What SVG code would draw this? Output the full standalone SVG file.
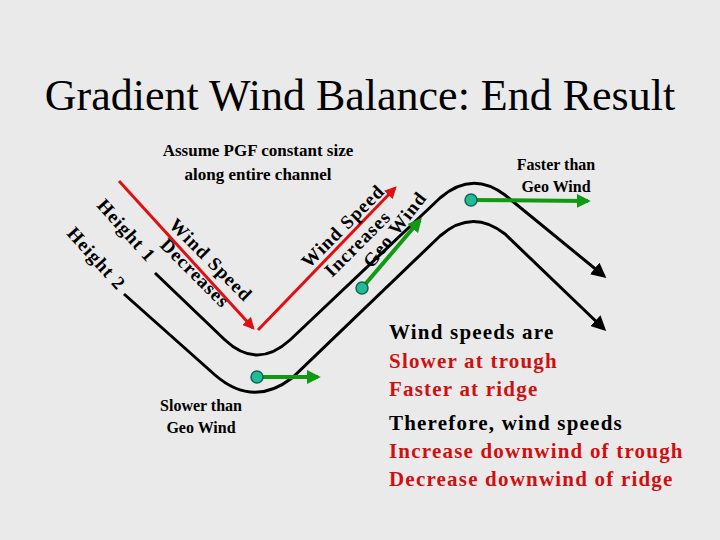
<svg xmlns="http://www.w3.org/2000/svg" width="720" height="540" viewBox="0 0 720 540">
<defs>
<style>
.t{font-family:"Liberation Serif",serif;font-weight:bold}
.c{fill:none;stroke:#000;stroke-width:3}
.r{stroke:#e01010;stroke-width:3}
.g{stroke:#119911;stroke-width:4}
.dot{fill:#22bb99;stroke:#116655;stroke-width:1.5}
.red{fill:#d01010}
.rot{font-size:19px;letter-spacing:1px}
</style>
<marker id="ab" viewBox="0 0 10 10" refX="8" refY="5" markerWidth="5" markerHeight="5" orient="auto"><path d="M0,0L10,5L0,10z" fill="#000"/></marker>
<marker id="ar" viewBox="0 0 10 10" refX="8" refY="5" markerWidth="4" markerHeight="4" orient="auto"><path d="M0,0L10,5L0,10z" fill="#e01010"/></marker>
<marker id="ag" viewBox="0 0 10 10" refX="8" refY="5" markerWidth="3.5" markerHeight="3.5" orient="auto"><path d="M0,0L10,5L0,10z" fill="#119911"/></marker>
</defs>
<rect width="720" height="540" fill="#eaeaea"/>
<text x="360" y="110" text-anchor="middle" font-family="'Liberation Serif',serif" font-size="44">Gradient Wind Balance: End Result</text>
<g id="connectors">
<path class="c" marker-end="url(#ab)" d="M155,273 L225,340 Q257,370 290,340 L440,198 Q472,170 505,195 L604,276"/>
<path class="c" marker-end="url(#ab)" d="M124,294 L215,375 Q253,408 292,378 L440,236 Q472,208 505,234 L604,329"/>
<line class="r" marker-end="url(#ar)" x1="119" y1="181" x2="253" y2="328"/>
<line class="r" marker-end="url(#ar)" x1="258" y1="330" x2="395" y2="188"/>
<line class="g" marker-end="url(#ag)" x1="362" y1="288" x2="420" y2="220"/>
<line class="g" marker-end="url(#ag)" x1="257" y1="377" x2="318" y2="377"/>
<line class="g" marker-end="url(#ag)" x1="471" y1="200" x2="588" y2="201"/>
</g>
<g id="dots">
<circle class="dot" cx="362" cy="288" r="6"/>
<circle class="dot" cx="257" cy="377" r="6"/>
<circle class="dot" cx="471" cy="200" r="6"/>
</g>
<g id="labels" class="t" font-size="18">
<text x="258" y="156" text-anchor="middle" font-size="17">Assume PGF constant size</text>
<text x="258" y="180" text-anchor="middle" font-size="17">along entire channel</text>
<text x="556" y="170" text-anchor="middle" font-size="16">Faster than</text>
<text x="556" y="192" text-anchor="middle" font-size="16">Geo Wind</text>
<text x="201" y="411" text-anchor="middle" font-size="16">Slower than</text>
<text x="201" y="433" text-anchor="middle" font-size="16">Geo Wind</text>
<text class="rot" transform="translate(96,206) rotate(48)">Height 1</text>
<text class="rot" transform="translate(66,234) rotate(48)">Height 2</text>
<text class="rot" transform="translate(168,226) rotate(45)">Wind Speed</text>
<text class="rot" transform="translate(159,246) rotate(45)">Decreases</text>
<text class="rot" transform="translate(309,269) rotate(-45)">Wind Speed</text>
<text class="rot" transform="translate(332,278) rotate(-45)">Increases</text>
<text class="rot" transform="translate(372,269) rotate(-52)">Geo Wind</text>
</g>
<g id="notes" class="t" font-size="21" letter-spacing="1.2">
<text x="389" y="339">Wind speeds are</text>
<text x="389" y="368" class="red">Slower at trough</text>
<text x="389" y="396" class="red">Faster at ridge</text>
<text x="389" y="430">Therefore, wind speeds</text>
<text x="389" y="458" class="red">Increase downwind of trough</text>
<text x="389" y="486" class="red">Decrease downwind of ridge</text>
</g>
</svg>
